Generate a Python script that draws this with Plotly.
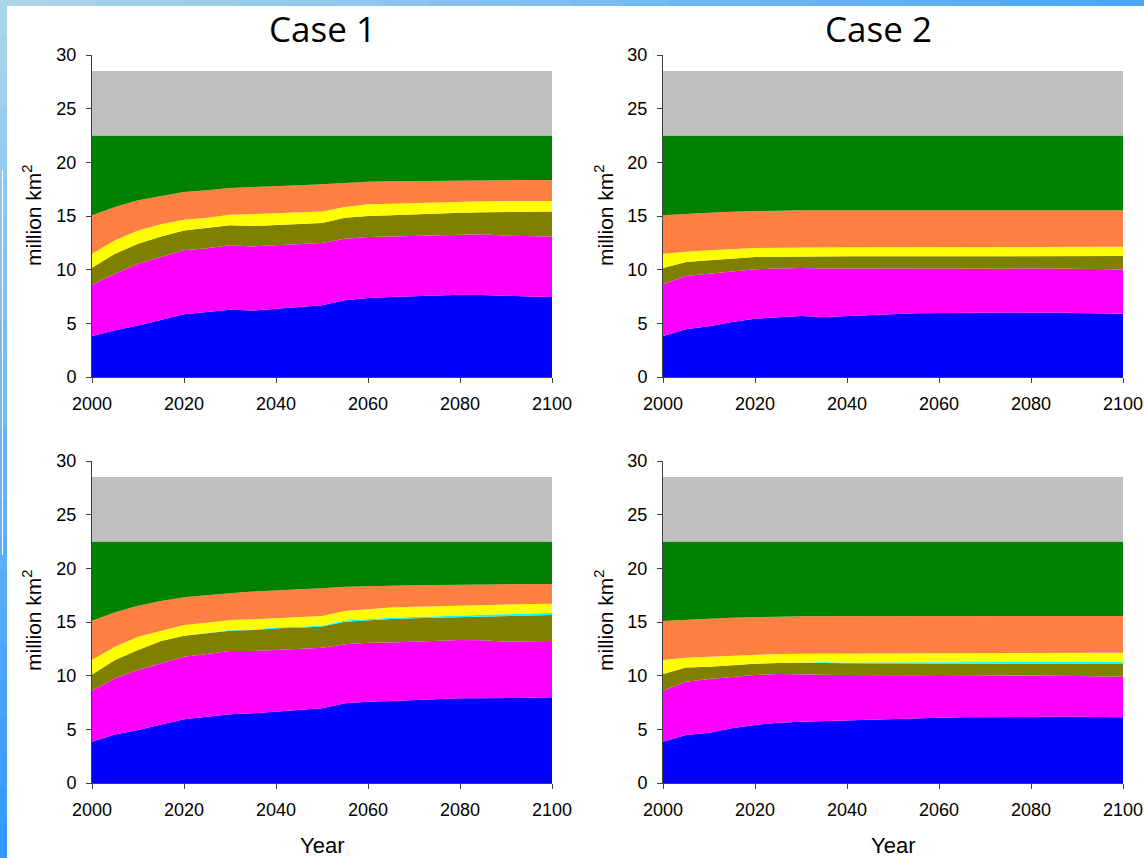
import plotly.graph_objects as go

years = [2000, 2005, 2010, 2015, 2020, 2025, 2030, 2035, 2040, 2045, 2050,
         2055, 2060, 2065, 2070, 2075, 2080, 2085, 2090, 2095, 2100]

# Upper boundary (cumulative, million km2) of each land-cover layer
# ---- Case 1, upper panel
c1a_blue = [3.82, 4.35, 4.80, 5.30, 5.84, 6.05, 6.27, 6.20, 6.37, 6.50, 6.68,
            7.14, 7.36, 7.45, 7.50, 7.58, 7.67, 7.64, 7.55, 7.50, 7.45]
c1a_magenta = [8.60, 9.63, 10.56, 11.18, 11.80, 12.00, 12.27, 12.17, 12.27, 12.36, 12.48,
               12.89, 13.04, 13.10, 13.14, 13.20, 13.29, 13.29, 13.17, 13.17, 13.10]
c1a_olive = [10.19, 11.49, 12.42, 13.10, 13.66, 13.88, 14.13, 14.07, 14.16, 14.22, 14.35,
             14.84, 15.00, 15.06, 15.16, 15.22, 15.31, 15.34, 15.37, 15.40, 15.43]
c1a_cyan = c1a_olive
c1a_yellow = [11.49, 12.73, 13.66, 14.22, 14.66, 14.84, 15.12, 15.16, 15.25, 15.34, 15.43,
              15.84, 16.09, 16.15, 16.21, 16.27, 16.37, 16.37, 16.40, 16.40, 16.40]
c1a_orange = [15.06, 15.84, 16.46, 16.86, 17.24, 17.39, 17.61, 17.70, 17.76, 17.86, 17.95,
              18.10, 18.20, 18.23, 18.26, 18.29, 18.32, 18.32, 18.35, 18.35, 18.35]

# ---- Case 2, upper panel
c2a_blue = [3.82, 4.44, 4.72, 5.12, 5.43, 5.59, 5.68, 5.59, 5.68, 5.75, 5.81,
            5.93, 5.96, 5.99, 6.02, 6.02, 5.99, 6.02, 5.96, 5.93, 5.90]
c2a_magenta = [8.63, 9.41, 9.63, 9.84, 10.03, 10.12, 10.16, 10.12, 10.12, 10.09, 10.09,
               10.12, 10.12, 10.16, 10.16, 10.16, 10.16, 10.12, 10.09, 10.06, 10.00]
c2a_olive = [10.16, 10.71, 10.87, 11.02, 11.18, 11.21, 11.24, 11.24, 11.24, 11.24, 11.24,
             11.25, 11.25, 11.25, 11.26, 11.26, 11.26, 11.27, 11.27, 11.27, 11.27]
c2a_cyan = c2a_olive
c2a_yellow = [11.49, 11.68, 11.80, 11.93, 12.02, 12.05, 12.08, 12.08, 12.09, 12.09, 12.10,
              12.10, 12.11, 12.11, 12.12, 12.12, 12.13, 12.13, 12.14, 12.14, 12.14]
c2a_orange = [15.06, 15.22, 15.31, 15.40, 15.47, 15.50, 15.53, 15.53, 15.53, 15.53, 15.53,
              15.53, 15.53, 15.53, 15.53, 15.53, 15.53, 15.53, 15.53, 15.53, 15.53]

# ---- Case 1, lower panel
c1b_blue = [3.85, 4.53, 4.94, 5.47, 5.93, 6.18, 6.40, 6.49, 6.65, 6.80, 6.96,
            7.42, 7.58, 7.64, 7.73, 7.80, 7.89, 7.89, 7.89, 7.95, 7.98]
c1b_magenta = [8.60, 9.75, 10.53, 11.15, 11.77, 12.02, 12.30, 12.30, 12.39, 12.48, 12.60,
               12.92, 13.07, 13.10, 13.17, 13.23, 13.32, 13.29, 13.17, 13.20, 13.23]
c1b_olive = [10.12, 11.46, 12.39, 13.23, 13.73, 13.94, 14.19, 14.25, 14.41, 14.47, 14.57,
             15.03, 15.19, 15.28, 15.34, 15.40, 15.47, 15.50, 15.59, 15.62, 15.65]
c1b_cyan = [10.12, 11.46, 12.39, 13.23, 13.73, 13.95, 14.22, 14.30, 14.48, 14.55, 14.66,
            15.13, 15.30, 15.40, 15.47, 15.54, 15.62, 15.66, 15.76, 15.79, 15.83]
c1b_yellow = [11.49, 12.70, 13.63, 14.16, 14.72, 14.94, 15.19, 15.25, 15.34, 15.43, 15.56,
              16.02, 16.21, 16.34, 16.43, 16.49, 16.55, 16.58, 16.65, 16.68, 16.71]
c1b_orange = [15.12, 15.90, 16.52, 16.96, 17.30, 17.45, 17.67, 17.83, 17.92, 18.04, 18.14,
              18.29, 18.35, 18.38, 18.42, 18.45, 18.48, 18.50, 18.51, 18.53, 18.54]

# ---- Case 2, lower panel
c2b_blue = [3.85, 4.47, 4.69, 5.09, 5.40, 5.62, 5.71, 5.78, 5.84, 5.90, 5.96,
            6.06, 6.09, 6.12, 6.15, 6.18, 6.18, 6.18, 6.18, 6.15, 6.12]
c2b_magenta = [8.60, 9.44, 9.69, 9.91, 10.06, 10.16, 10.16, 10.09, 10.06, 10.03, 10.00,
               10.03, 10.06, 10.06, 10.06, 10.03, 10.00, 10.00, 9.97, 9.94, 9.91]
c2b_olive = [10.16, 10.75, 10.84, 10.99, 11.12, 11.18, 11.21, 11.18, 11.15, 11.14, 11.13,
             11.13, 11.12, 11.12, 11.11, 11.11, 11.10, 11.10, 11.10, 11.09, 11.09]
c2b_cyan = [10.16, 10.75, 10.84, 10.99, 11.12, 11.19, 11.24, 11.24, 11.23, 11.23, 11.23,
            11.24, 11.24, 11.25, 11.25, 11.26, 11.26, 11.27, 11.28, 11.28, 11.29]
c2b_yellow = [11.46, 11.68, 11.77, 11.86, 11.96, 12.02, 12.05, 12.06, 12.07, 12.08, 12.09,
              12.10, 12.10, 12.11, 12.11, 12.12, 12.12, 12.13, 12.13, 12.14, 12.14]
c2b_orange = [15.09, 15.22, 15.31, 15.40, 15.47, 15.50, 15.53, 15.53, 15.53, 15.53, 15.53,
              15.53, 15.53, 15.54, 15.54, 15.55, 15.55, 15.55, 15.56, 15.56, 15.56]

green_top = [22.5] * len(years)
gray_top = [28.5] * len(years)

panel_values = {
    "c1a": [c1a_blue, c1a_magenta, c1a_olive, c1a_cyan, c1a_yellow, c1a_orange, green_top, gray_top],
    "c2a": [c2a_blue, c2a_magenta, c2a_olive, c2a_cyan, c2a_yellow, c2a_orange, green_top, gray_top],
    "c1b": [c1b_blue, c1b_magenta, c1b_olive, c1b_cyan, c1b_yellow, c1b_orange, green_top, gray_top],
    "c2b": [c2b_blue, c2b_magenta, c2b_olive, c2b_cyan, c2b_yellow, c2b_orange, green_top, gray_top],
}
layer_colors = ["#0000FF", "#FF00FF", "#808000", "#00FFFF", "#FFFF00", "#FF8040", "#008000", "#C0C0C0"]

W, H = 1144, 858
def px_x(p): return p / W
def px_y(p): return 1 - p / H

panels = [
    ("c1a", "x", "y", (92, 552), (55, 377)),
    ("c2a", "x2", "y2", (663, 1123), (55, 377)),
    ("c1b", "x3", "y3", (92, 552), (461, 783)),
    ("c2b", "x4", "y4", (663, 1123), (461, 783)),
]

fig = go.Figure()
layout = dict(
    width=W, height=H, margin=dict(l=0, r=0, t=0, b=0, autoexpand=False),
    paper_bgcolor="white", plot_bgcolor="white", showlegend=False,
    font=dict(family="Liberation Sans, Arial, sans-serif", size=18, color="black"),
)

for key, xa, ya, (xl, xr), (yt, yb) in panels:
    vals = panel_values[key]
    for i, (v, c) in enumerate(zip(vals, layer_colors)):
        fig.add_trace(go.Scatter(
            x=years, y=v, xaxis=xa, yaxis=ya, mode="lines",
            line=dict(width=0, color=c), fill="tozeroy" if i == 0 else "tonexty",
            fillcolor=c, hoverinfo="skip"))
    xname = "xaxis" if xa == "x" else "xaxis" + xa[1:]
    yname = "yaxis" if ya == "y" else "yaxis" + ya[1:]
    layout[xname] = dict(
        domain=[px_x(xl), px_x(xr)], anchor=ya, range=[2000, 2100],
        tickvals=[2000, 2020, 2040, 2060, 2080, 2100], automargin=False,
        ticks="outside", ticklen=5, tickcolor="#404040", showline=True,
        linecolor="#404040", linewidth=1, showgrid=False, zeroline=False,
        ticklabelstandoff=5, tickfont=dict(size=18))
    layout[yname] = dict(
        domain=[px_y(yb), px_y(yt)], anchor=xa, range=[0, 30],
        tickvals=[0, 5, 10, 15, 20, 25, 30], automargin=False,
        ticks="outside", ticklen=5, tickcolor="#404040", showline=True,
        linecolor="#404040", linewidth=1, showgrid=False, zeroline=False,
        ticklabelstandoff=6, tickfont=dict(size=18))

def ann(text, cx, cy, **kw):
    return dict(text=text, x=px_x(cx), y=px_y(cy), xref="paper", yref="paper",
                xanchor="center", yanchor="middle", showarrow=False, **kw)

annotations = [
    ann("Case 1", 322, 28, font=dict(family="Open Sans, sans-serif", size=35)),
    ann("Case 2", 878, 28, font=dict(family="Open Sans, sans-serif", size=35)),
    ann("Year", 322, 845, font=dict(size=22)),
    ann("Year", 893, 845, font=dict(size=22)),
]
for cx, cy in [(32, 215), (604, 215), (32, 620), (604, 620)]:
    annotations.append(ann("million km<sup>2</sup>", cx, cy, textangle=-90, font=dict(size=21)))
layout["annotations"] = annotations

# slide decoration (blue bars along top and left edges)
shapes = []
n = 24
def mix(c1, c2, t):
    return "#%02X%02X%02X" % tuple(int(round(a + (b - a) * t)) for a, b in zip(c1, c2))
for k in range(n):
    x0, x1 = W * k / n, W * (k + 1) / n
    shapes.append(dict(type="rect", xref="paper", yref="paper", x0=px_x(x0), x1=px_x(x1) + 0.001,
                       y0=px_y(6), y1=1, line=dict(width=0),
                       fillcolor=mix((170, 212, 234), (77, 166, 247), k / (n - 1))))
    y0, y1 = H * k / n, H * (k + 1) / n
    shapes.append(dict(type="rect", xref="paper", yref="paper", x0=0, x1=px_x(7),
                       y0=px_y(y1) - 0.001, y1=px_y(y0), line=dict(width=0),
                       fillcolor=mix((170, 212, 234), (51, 153, 255), k / (n - 1))))
shapes.append(dict(type="rect", xref="paper", yref="paper", x0=px_x(2), x1=px_x(3),
                   y0=px_y(555), y1=px_y(170), line=dict(width=0), fillcolor="white"))
layout["shapes"] = shapes

fig.update_layout(**layout)
fig.write_html("out.html", config={"displayModeBar": False},
               post_script="document.body.style.margin='0';document.body.style.overflow='hidden';")
